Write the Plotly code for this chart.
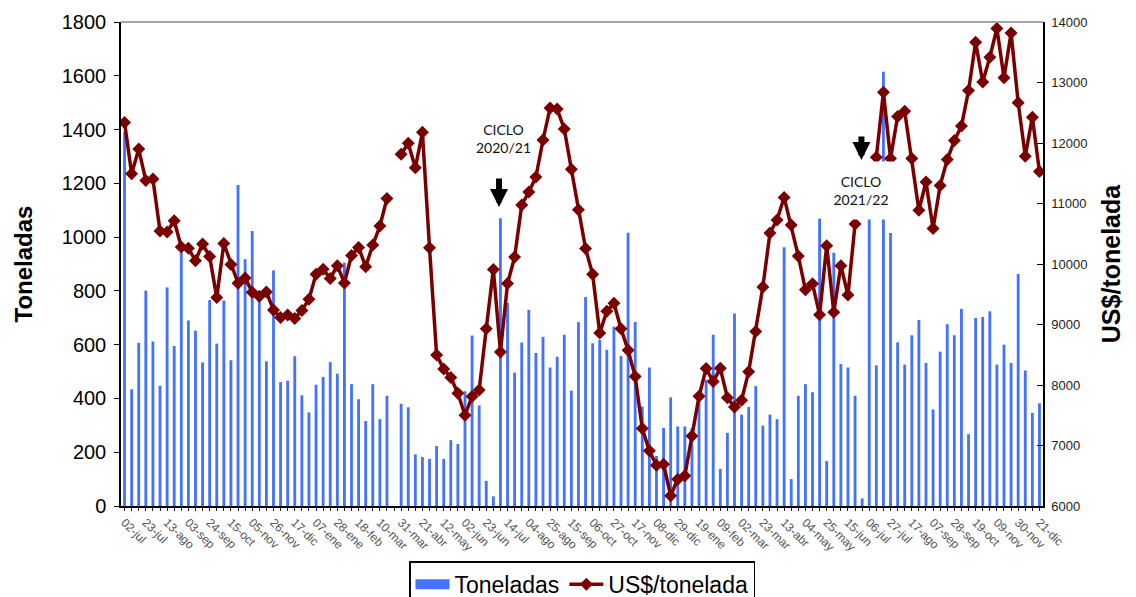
import pandas as pd
import plotly.graph_objects as go

# Weekly categories (130 weeks, 02-jul-2019 .. 21-dic-2021)
weeks = [d.strftime("%Y-%m-%d") for d in pd.date_range("2019-07-02", periods=130, freq="7D")]

tick_labels = ["02-jul", "23-jul", "13-ago", "03-sep", "24-sep", "15-oct", "05-nov", "26-nov",
               "17-dic", "07-ene", "28-ene", "18-feb", "10-mar", "31-mar", "21-abr", "12-may",
               "02-jun", "23-jun", "14-jul", "04-ago", "25-ago", "15-sep", "06-oct", "27-oct",
               "17-nov", "08-dic", "29-dic", "19-ene", "09-feb", "02-mar", "23-mar", "13-abr",
               "04-may", "25-may", "15-jun", "06-jul", "27-jul", "17-ago", "07-sep", "28-sep",
               "19-oct", "09-nov", "30-nov", "21-dic"]

toneladas = [1390, 434, 607, 801, 612, 447, 813, 595, 943, 690,
             652, 534, 766, 604, 764, 542, 1194, 918, 1023, 765,
             538, 876, 461, 466, 557, 412, 348, 451, 480, 535,
             492, 905, 453, 397, 316, 453, 323, 410, None, 380,
             367, 192, 182, 175, 223, 175, 245, 231, 427, 634,
             374, 93, 36, 1070, 755, 496, 608, 729, 569, 629,
             515, 555, 637, 429, 684, 777, 605, 618, 581, 667,
             558, 1016, 685, 370, 515, 186, 290, 404, 296, 296,
             290, 420, 470, 637, 138, 272, 716, 340, 368, 446,
             299, 340, 323, 962, 100, 410, 453, 423, 1069, 167,
             942, 528, 515, 410, 28, 1069, 523, 1615, 1015, 609,
             526, 635, 692, 532, 359, 574, 676, 635, 733, 267,
             699, 703, 724, 526, 600, 532, 863, 504, 346, 382]

precio = [12340, 11490, 11900, 11380, 11405, 10545, 10530, 10715, 10280, 10260,
          10055, 10330, 10125, 9445, 10340, 9993, 9682, 9770, 9535, 9465,
          9538, 9240, 9117, 9157, 9100, 9231, 9419, 9829, 9915, 9761,
          9972, 9687, 10142, 10274, 9955, 10313, 10627, 11083, None, 11815,
          11996, 11590, 12177, 10268, 8495, 8265, 8124, 7865, 7500, 7810,
          7918, 8929, 9911, 8547, 9677, 10114, 10975, 11190, 11438, 12050,
          12580, 12560, 12231, 11565, 10895, 10257, 9830, 8858, 9219, 9350,
          8929, 8575, 8140, 7280, 6912, 6675, 6690, 6170, 6444, 6501,
          7157, 7812, 8273, 8057, 8276, 7790, 7635, 7750, 8220, 8884,
          9620, 10513, 10729, 11100, 10644, 10131, 9573, 9675, 9162, 10302,
          9202, 9972, 9487, 10661, None, None, 11766, 12838, 11744, 12439,
          12524, 11744, 10889, 11356, 10587, 11299, 11727, 12040, 12279, 12866,
          13664, 13009, 13419, 13892, 13077, 13818, 12667, 11783, 12427, 11527]

ticktext = ["" for _ in weeks]
for k, lab in enumerate(tick_labels):
    ticktext[3 * k] = lab

FONT = "Liberation Sans, Arial, sans-serif"
BLUE = "#4372FF"
RED = "#7A0000"

fig = go.Figure()
fig.add_trace(go.Bar(x=weeks, y=toneladas, name="Toneladas", showlegend=False,
                     legendgroup="t", marker=dict(color=BLUE, line=dict(width=0)),
                     yaxis="y"))
# legend swatch for the bars (wide rectangle like the reference legend)
fig.add_trace(go.Scatter(x=[None], y=[None], name="Toneladas", mode="lines",
                         legendgroup="t", line=dict(color=BLUE, width=10), yaxis="y"))
fig.add_trace(go.Scatter(x=weeks, y=precio, name="US$/tonelada", mode="lines+markers",
                         line=dict(color=RED, width=3.5),
                         marker=dict(symbol="diamond", size=10, color=RED),
                         connectgaps=False, yaxis="y2"))

annotations = [
    dict(x=53.4, y=1367, xref="x", yref="y", text="CICLO<br>2020/21", showarrow=False,
         font=dict(family="Lato, Open Sans, sans-serif", size=14, color="#111"),
         align="center"),
    dict(x=103.9, y=1173, xref="x", yref="y", text="CICLO<br>2021/22", showarrow=False,
         font=dict(family="Lato, Open Sans, sans-serif", size=14, color="#111"),
         bgcolor="white", width=64, height=55, valign="middle", align="center"),
    dict(x=52.8, y=1112, xref="x", yref="y", text="", showarrow=True, ax=0, ay=-30,
         arrowhead=2, arrowsize=0.6, arrowwidth=6, arrowcolor="black", standoff=0),
    dict(x=103.9, y=1287, xref="x", yref="y", text="", showarrow=True, ax=0, ay=-25,
         arrowhead=2, arrowsize=0.6, arrowwidth=6, arrowcolor="black", standoff=0),
]

fig.update_layout(
    width=1136, height=597,
    margin=dict(l=121, r=93, t=22, b=91, autoexpand=False),
    paper_bgcolor="white", plot_bgcolor="white",
    bargap=0.6,
    showlegend=True,
    legend=dict(orientation="h", x=0.5, xanchor="center", y=-0.114, yanchor="top",
                bordercolor="black", borderwidth=1.5, bgcolor="white",
                font=dict(family=FONT, size=23, color="black"), itemwidth=34,
                traceorder="normal", valign="top"),
    xaxis=dict(type="category", tickmode="array", tickvals=weeks, ticktext=ticktext,
               tickangle=45, tickfont=dict(family=FONT, size=12, color="#555"),
               ticks="outside", ticklen=3, tickcolor="#222",
               showline=True, linecolor="black", linewidth=1.5, showgrid=False,
               range=[-0.5, 129.5], automargin=False),
    yaxis=dict(range=[0, 1800], dtick=200, showgrid=False, zeroline=False,
               showline=True, linecolor="black", linewidth=1.5,
               ticks="outside", ticklen=5, tickcolor="black", ticklabelstandoff=4,
               tickfont=dict(family=FONT, size=20, color="black"),
               title=dict(text="<b>Toneladas</b>", standoff=22,
                          font=dict(family=FONT, size=24, color="black")),
               automargin=False),
    yaxis2=dict(range=[6000, 14000], dtick=1000, overlaying="y", side="right",
                tickformat="d", exponentformat="none",
                showgrid=False, zeroline=False, showline=True, linecolor="black", linewidth=1.5,
                ticks="inside", ticklen=6, tickcolor="black", ticklabelstandoff=4,
                tickfont=dict(family=FONT, size=13, color="#222"),
                title=dict(text="<b>US$/tonelada</b>", standoff=16,
                           font=dict(family=FONT, size=25, color="black")),
                automargin=False),
    shapes=[dict(type="line", xref="paper", yref="paper", x0=0, x1=1, y0=1, y1=1,
                 line=dict(color="#888", width=1.5))],
    annotations=annotations,
)

fig.write_html("out.html", config={"displayModeBar": False},
               post_script="document.body.style.margin='0';")
